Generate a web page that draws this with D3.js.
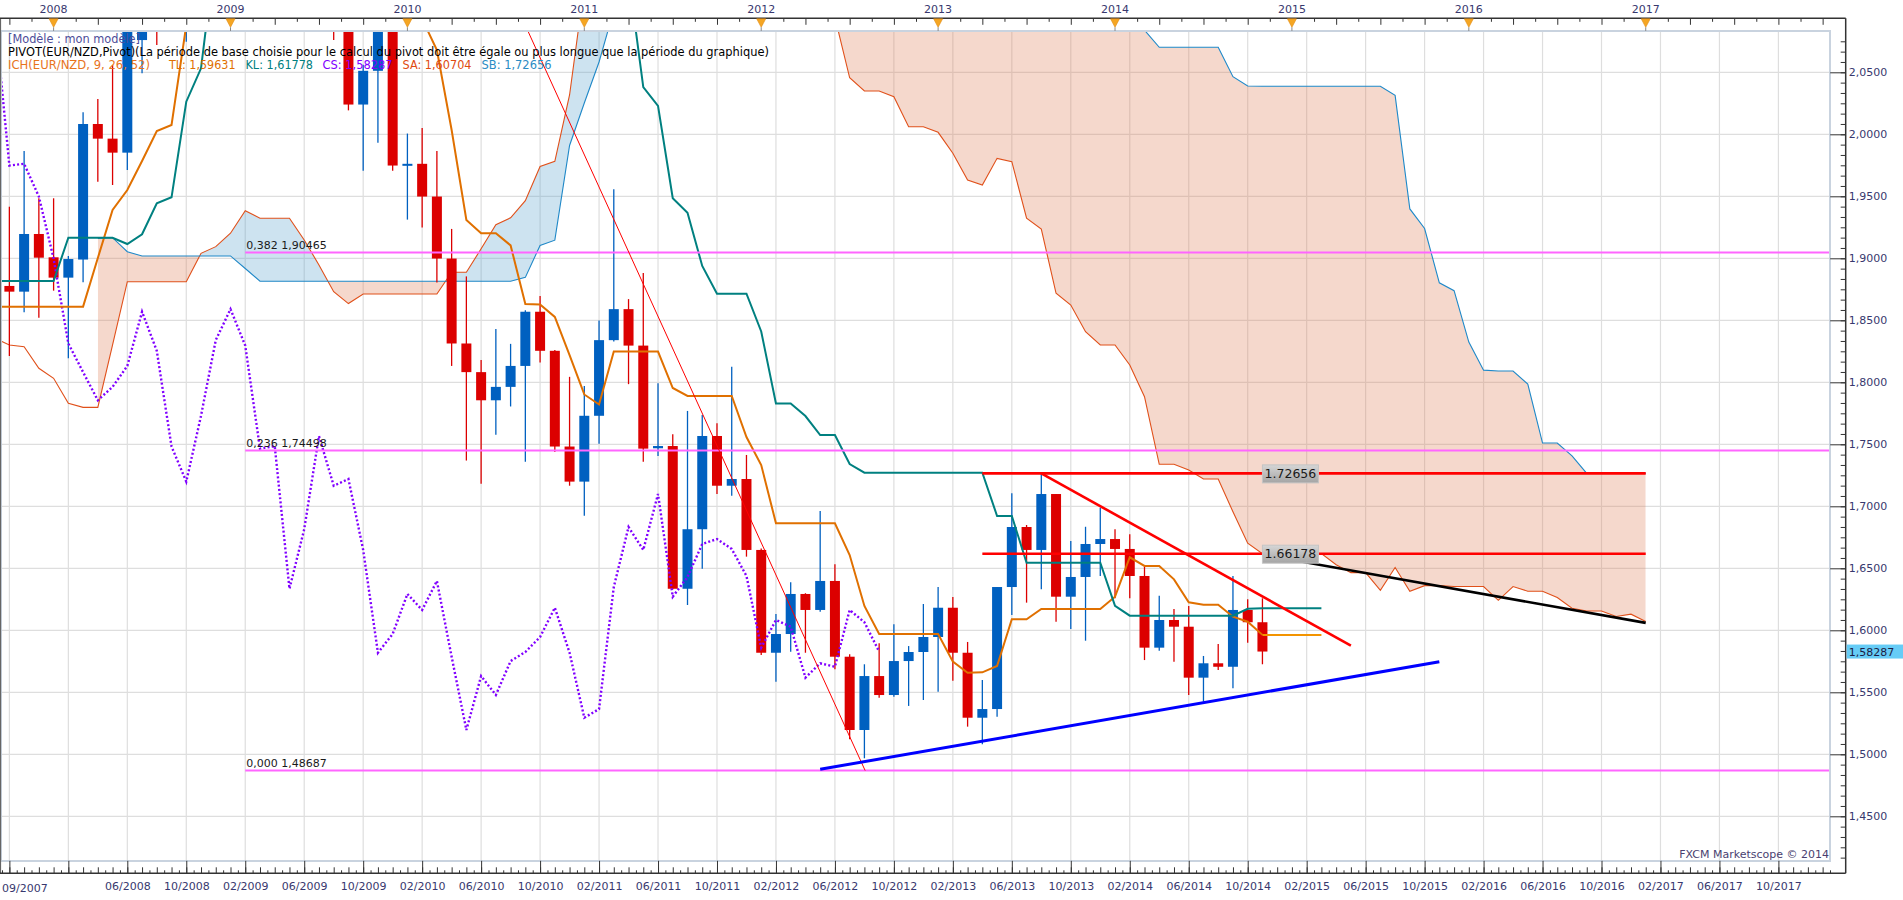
<!DOCTYPE html>
<html>
<head>
<meta charset="utf-8">
<script src="https://cdn.jsdelivr.net/npm/d3@7/dist/d3.min.js"></script>
<style>
  body { margin: 0; background: #fff; }
  text { font-family: "DejaVu Sans", Verdana, sans-serif; }
</style>
</head>
<body>
<div id="chart"></div>
<script>
// month index: 0 = 01/2008
const candleStart = -3; // 10/2007
const opens = [
  1.8777, 1.8731, 1.9196, 1.9008, 1.8844, 1.8990, 2.0083, 1.9965, 1.9852, 2.0760,
  2.1400, 2.1000, 2.1600, 2.2700, 2.3700, 2.4200, 2.5300, 2.5000, 2.3000, 2.3200,
  2.1900, 2.1800, 2.1500, 2.1100, 2.0240, 2.0512, 2.0980, 1.9748, 1.9762, 1.9498,
  1.8998, 1.8313, 1.8082, 1.7855, 1.7963, 1.8132, 1.8569, 1.8254, 1.7482, 1.7199,
  1.7730, 1.8340, 1.8590, 1.8296, 1.7468, 1.7486, 1.6335, 1.6815, 1.7567, 1.7166,
  1.7220, 1.6648, 1.5819, 1.5970, 1.6293, 1.6164, 1.6398, 1.5787, 1.5196, 1.5631,
  1.5478, 1.5752, 1.5825, 1.5946, 1.6182, 1.5819, 1.5295, 1.5365, 1.6349, 1.6833,
  1.6648, 1.7099, 1.6271, 1.6430, 1.6696, 1.6736, 1.6656, 1.6438, 1.5860, 1.6083,
  1.6029, 1.5618, 1.5734, 1.5706, 1.6164, 1.6065
];
const highs = [
  1.9416, 1.9865, 1.9484, 1.9484, 1.9019, 2.0177, 2.0285, 2.0559, 2.1200, 2.1600,
  2.1700, 2.2000, 2.4000, 2.4200, 2.5500, 2.6000, 2.6100, 2.5400, 2.3800, 2.3300,
  2.2400, 2.2200, 2.1700, 2.1300, 2.0560, 2.1300, 2.1200, 2.0006, 2.0051, 1.9865,
  1.9237, 1.8854, 1.8180, 1.8430, 1.8310, 1.8582, 1.8696, 1.8260, 1.8044, 1.7971,
  1.8498, 1.9556, 1.8671, 1.8881, 1.7992, 1.7581, 1.7769, 1.7736, 1.7669, 1.8126,
  1.7414, 1.6660, 1.6131, 1.6387, 1.6299, 1.6962, 1.6532, 1.5806, 1.5726, 1.5895,
  1.6048, 1.5873, 1.6212, 1.6349, 1.6269, 1.5906, 1.5599, 1.6349, 1.7105, 1.6849,
  1.7266, 1.7099, 1.6720, 1.6835, 1.6989, 1.6815, 1.6774, 1.6513, 1.6279, 1.6172,
  1.6196, 1.5793, 1.5890, 1.6438, 1.6250, 1.6258
];
const lows = [
  1.8212, 1.8565, 1.8521, 1.8739, 1.8194, 1.8806, 1.9618, 1.9591, 1.9712, 2.0492,
  2.0720, 2.0900, 2.0747, 2.2000, 2.3300, 2.3900, 2.4500, 2.2800, 2.2500, 2.1700,
  2.1400, 2.1200, 2.0760, 2.0193, 1.9706, 1.9931, 1.9706, 1.9312, 1.9248, 1.8804,
  1.8132, 1.7369, 1.7182, 1.7577, 1.7805, 1.7360, 1.8160, 1.7438, 1.7166, 1.6924,
  1.7505, 1.8330, 1.7985, 1.7360, 1.7406, 1.6330, 1.6204, 1.6497, 1.7099, 1.7085,
  1.6594, 1.5800, 1.5585, 1.5827, 1.5819, 1.6150, 1.5685, 1.5121, 1.4968, 1.5456,
  1.5464, 1.5390, 1.5438, 1.5505, 1.5594, 1.5223, 1.5081, 1.5303, 1.6123, 1.6223,
  1.6331, 1.6069, 1.6010, 1.5916, 1.6438, 1.6258, 1.6258, 1.5760, 1.5835, 1.5747,
  1.5478, 1.5424, 1.5680, 1.5532, 1.5900, 1.5726
];
const closes = [
  1.8731, 1.9196, 1.9005, 1.8844, 1.8994, 2.0083, 1.9965, 1.9852, 2.0900, 2.1400,
  2.1000, 2.1600, 2.2700, 2.3700, 2.4200, 2.5300, 2.5000, 2.3000, 2.3200, 2.1900,
  2.1800, 2.1500, 2.1100, 2.0240, 2.0512, 2.0980, 1.9748, 1.9762, 1.9498, 1.8998,
  1.8313, 1.8082, 1.7855, 1.7963, 1.8132, 1.8569, 1.8254, 1.7482, 1.7199, 1.7730,
  1.8340, 1.8590, 1.8296, 1.7465, 1.7486, 1.6335, 1.6815, 1.7567, 1.7166, 1.7220,
  1.6648, 1.5819, 1.5970, 1.6293, 1.6164, 1.6398, 1.5787, 1.5196, 1.5631, 1.5478,
  1.5752, 1.5825, 1.5946, 1.6182, 1.5819, 1.5295, 1.5365, 1.6349, 1.6833, 1.6648,
  1.7099, 1.6271, 1.6430, 1.6696, 1.6736, 1.6656, 1.6438, 1.5860, 1.6083, 1.6029,
  1.5618, 1.5734, 1.5706, 1.6164, 1.6065, 1.58287
];

// Ichimoku lines
const lineStart = -4; // 09/2007
const tenkan = [
  1.8610, 1.8610, 1.8610, 1.8610, 1.8610, 1.8610, 1.8610, 1.9002, 1.9390, 1.9551,
  1.9785, 2.0027, 2.0075, 2.0880, 2.2000, 2.2500, 2.3200, 2.3500, 2.3500, 2.3500,
  2.3500, 2.3300, 2.2800, 2.2500, 2.2200, 2.2000, 2.1800, 2.1500, 2.1200, 2.0930,
  2.0680, 2.0035, 1.9309, 1.9202, 1.9202, 1.9104, 1.8632, 1.8627, 1.8527, 1.8220,
  1.7902, 1.7821, 1.8248, 1.8248, 1.8248, 1.8248, 1.7954, 1.7890, 1.7890, 1.7890,
  1.7890, 1.7559, 1.7333, 1.6863, 1.6863, 1.6863, 1.6863, 1.6863, 1.6607, 1.6196,
  1.5970, 1.5970, 1.5970, 1.5970, 1.5970, 1.5747, 1.5658, 1.5661, 1.5712, 1.6089,
  1.6089, 1.6172, 1.6172, 1.6172, 1.6172, 1.6172, 1.6271, 1.6589, 1.6519, 1.6519,
  1.6411, 1.6226, 1.6206, 1.6206, 1.6110, 1.6069, 1.59631
];
const kijun = [
  1.8817, 1.8817, 1.8817, 1.8817, 1.8817, 1.9166, 1.9166, 1.9166, 1.9166, 1.9115,
  1.9194, 1.9444, 1.9492, 2.0263, 2.0532, 2.1500, 2.2500, 2.2500, 2.2500, 2.2500,
  2.2500, 2.2500, 2.2500, 2.2500, 2.2500, 2.2500, 2.2500, 2.2500, 2.2500, 2.1700,
  2.1700, 2.1700, 2.1700, 2.1700, 2.1700, 2.1700, 2.1700, 2.1700, 2.1700, 2.1700,
  2.1700, 2.1700, 2.1700, 2.1280, 2.0381, 2.0229, 1.9485, 1.9368, 1.8938, 1.8715,
  1.8715, 1.8715, 1.8410, 1.7829, 1.7829, 1.7728, 1.7575, 1.7575, 1.7341, 1.7271,
  1.7271, 1.7271, 1.7271, 1.7271, 1.7271, 1.7271, 1.7271, 1.7271, 1.6922, 1.6922,
  1.6545, 1.6545, 1.6545, 1.6545, 1.6545, 1.6545, 1.6198, 1.6118, 1.6118, 1.6118,
  1.6118, 1.6118, 1.6118, 1.6118, 1.6118, 1.6174, 1.61778
];
const senkouA = [
  1.8357, 1.8301, 1.8287, 1.8113, 1.8032, 1.7831, 1.7798, 1.7798, 1.8301, 1.8811,
  1.8811, 1.8811, 1.8811, 1.8811, 1.9040, 1.9094, 1.9202, 1.9384, 1.9323, 1.9323,
  1.9323, 1.9148, 1.8946, 1.8731, 1.8635, 1.8712, 1.8712, 1.8712, 1.8712, 1.8712,
  1.8712, 1.8887, 1.8887, 1.9077, 1.9271, 1.9327, 1.9465, 1.9740, 1.9782, 2.0317,
  2.1200, 2.1600, 2.2000, 2.2000, 2.2000, 2.2000, 2.2000, 2.2000, 2.2000, 2.1800,
  2.1800, 2.1800, 2.1800, 2.1800, 2.1800, 2.1500, 2.1200, 2.0943, 2.0456, 2.0349,
  2.0349, 2.0303, 2.0061, 2.0061, 2.0016, 1.9847, 1.9631, 1.9591, 1.9806, 1.9779,
  1.9323, 1.9236, 1.8718, 1.8623, 1.8408, 1.8301, 1.8301, 1.8140, 1.7884, 1.7339,
  1.7339, 1.7293, 1.7220, 1.7220, 1.6956, 1.6702, 1.6618, 1.6618, 1.6618, 1.6618,
  1.6618, 1.6529, 1.6465, 1.6465, 1.6322, 1.6506, 1.6315, 1.6360, 1.6360, 1.6353,
  1.6353, 1.6353, 1.6242, 1.6353, 1.6315, 1.6315, 1.6264, 1.6178, 1.6156, 1.6156,
  1.6111, 1.6130, 1.60704
];
const sbStart = 3; // 04/2008
const senkouB = [
  1.9161, 1.9166, 1.9053, 1.9019, 1.9019, 1.9019, 1.9019, 1.9019, 1.9019, 1.9019,
  1.8918, 1.8815, 1.8815, 1.8815, 1.8815, 1.8815, 1.8815, 1.8815, 1.8815, 1.8815,
  1.8815, 1.8815, 1.8815, 1.8815, 1.8815, 1.8815, 1.8815, 1.8815, 1.8815, 1.8846,
  1.9104, 1.9146, 1.9910, 2.0252, 2.0583, 2.1000, 2.1600, 2.2200, 2.2200, 2.2200,
  2.2200, 2.2200, 2.2200, 2.2200, 2.2200, 2.2200, 2.2200, 2.2200, 2.2200, 2.2200,
  2.2200, 2.2200, 2.2200, 2.2200, 2.2200, 2.2200, 2.2200, 2.2200, 2.2200, 2.2200,
  2.2200, 2.2200, 2.2200, 2.2200, 2.2200, 2.2200, 2.2200, 2.2200, 2.2200, 2.2200,
  2.1200, 2.0840, 2.0702, 2.0702, 2.0702, 2.0702, 2.0702, 2.0465, 2.0390, 2.0387,
  2.0387, 2.0387, 2.0387, 2.0387, 2.0387, 2.0387, 2.0387, 2.0387, 2.0314, 1.9398,
  1.9240, 1.8802, 1.8739, 1.8324, 1.8098, 1.8091, 1.8091, 1.7986, 1.7510, 1.7510,
  1.7406, 1.72656, 1.72656, 1.72656, 1.72656, 1.72656
];
const chikouShift = 26;
const projectEnd = 86; // TL / KL projected to 03/2015

// pivot (fibo) levels
const pivotRatios = ["0,382", "0,236", "0,000"];
const pivotValues = [1.90465, 1.74498, 1.48687];
const pivotStart = 13;

// hand-drawn lines
const levelValues = [1.72656, 1.66178];
const levelLabels = ["1.72656", "1.66178"];
const levelFrom = 63, levelTo = 108, levelBoxAt = 82;
const trendLines = [
  {pts: [[31, 2.1139], [55.05, 1.4869]], color: "#ff0000", w: 1},
  {pts: [[67, 1.72656], [88, 1.5876]], color: "#ff0000", w: 2.6},
  {pts: [[52, 1.4879], [94, 1.5747]], color: "#0000ff", w: 3},
  {pts: [[82, 1.6610], [108, 1.6060]], color: "#000000", w: 2.6}
];
const lastPrice = 1.58287;
const years = [2008, 2009, 2010, 2011, 2012, 2013, 2014, 2015, 2016, 2017];
const yTicks = [1.45, 1.50, 1.55, 1.60, 1.65, 1.70, 1.75, 1.80, 1.85, 1.90, 1.95, 2.00, 2.05];

const W = 1903, H = 900;
const plot = {left: 0, top: 31, right: 1830, bottom: 861};
const axisX = 1845.7, axisBottomY = 873.3, axisTopY = 18.3;

const x = d3.scaleLinear().domain([-3.636, 120.5]).range([plot.left, plot.right]);
const y = d3.scaleLinear().domain([1.45, 2.05]).range([816.3, 72.3]);

const RED = "#dc0000", BLUE = "#0060c0";
const AXIS_TXT = "#38386e";

const svg = d3.select("#chart").append("svg").attr("width", W).attr("height", H);
const defs = svg.append("defs");
defs.append("clipPath").attr("id", "plotClip").append("rect")
  .attr("x", plot.left).attr("y", plot.top)
  .attr("width", plot.right - plot.left).attr("height", plot.bottom - plot.top);

const series = (arr, start) => arr.map((v, i) => ({m: start + i, v: v}));
const line = d3.line().x(d => x(d.m)).y(d => y(d.v));

// grid
const gridMonths = d3.range(-3, 121, 4);
const grid = svg.append("g");
grid.selectAll("line.v").data(gridMonths).enter().append("line")
  .attr("x1", d => x(d)).attr("x2", d => x(d))
  .attr("y1", plot.top).attr("y2", plot.bottom)
  .attr("stroke", "#dedede").attr("stroke-width", 1.2);
grid.selectAll("line.h").data(yTicks).enter().append("line")
  .attr("x1", plot.left).attr("x2", plot.right)
  .attr("y1", d => y(d)).attr("y2", d => y(d))
  .attr("stroke", "#dedede").attr("stroke-width", 1.2);

const plotG = svg.append("g").attr("clip-path", "url(#plotClip)");

// cloud
const cloud = senkouB.map((b, i) => ({m: sbStart + i, b: b, a: senkouA[sbStart - lineStart + i]}));
const between = d3.area().x(d => x(d.m)).y0(d => y(d.a)).y1(d => y(d.b));
defs.append("clipPath").attr("id", "aboveB").append("path")
  .attr("d", d3.area().x(d => x(d.m)).y0(-5000).y1(d => y(d.b))(cloud));
defs.append("clipPath").attr("id", "belowB").append("path")
  .attr("d", d3.area().x(d => x(d.m)).y0(d => y(d.b)).y1(5000)(cloud));
plotG.append("g").attr("clip-path", "url(#aboveB)").append("path")
  .attr("d", between(cloud)).attr("fill", "rgb(88,162,205)").attr("fill-opacity", 0.3);
plotG.append("g").attr("clip-path", "url(#belowB)").append("path")
  .attr("d", between(cloud)).attr("fill", "rgb(222,125,85)").attr("fill-opacity", 0.3);

plotG.append("path").attr("d", line(series(senkouA, lineStart)))
  .attr("fill", "none").attr("stroke", "#e0501a").attr("stroke-width", 1.1);
plotG.append("path").attr("d", line(series(senkouB, sbStart)))
  .attr("fill", "none").attr("stroke", "#1e88c8").attr("stroke-width", 1.1);

// candles
const candles = opens.map((o, i) => ({m: candleStart + i, o: o, h: highs[i], l: lows[i], c: closes[i]}));
const gC = plotG.append("g");
gC.selectAll("line").data(candles).enter().append("line")
  .attr("x1", d => x(d.m)).attr("x2", d => x(d.m))
  .attr("y1", d => y(d.h)).attr("y2", d => y(d.l))
  .attr("stroke", d => d.c >= d.o ? BLUE : RED).attr("stroke-width", 1.3);
gC.selectAll("rect").data(candles).enter().append("rect")
  .attr("x", d => x(d.m) - 5).attr("width", 10)
  .attr("y", d => y(Math.max(d.o, d.c)))
  .attr("height", d => Math.max(2, Math.abs(y(d.o) - y(d.c))))
  .attr("fill", d => d.c >= d.o ? BLUE : RED);

// chikou, tenkan, kijun
plotG.append("path").attr("d", line(closes.map((v, i) => ({m: candleStart + i - chikouShift, v: v}))))
  .attr("fill", "none").attr("stroke", "#8000ff").attr("stroke-width", 2.4)
  .attr("stroke-dasharray", "2,2.2");
plotG.append("path").attr("d", line(series(tenkan, lineStart)))
  .attr("fill", "none").attr("stroke", "#e07000").attr("stroke-width", 2);
plotG.append("path").attr("d", line(series(kijun, lineStart)))
  .attr("fill", "none").attr("stroke", "#008080").attr("stroke-width", 2);
const lastM = lineStart + tenkan.length - 1;
plotG.append("path").attr("d", line([{m: lastM, v: tenkan[tenkan.length - 1]}, {m: projectEnd, v: tenkan[tenkan.length - 1]}]))
  .attr("stroke", "#f39400").attr("stroke-width", 2);
plotG.append("path").attr("d", line([{m: lastM, v: kijun[kijun.length - 1]}, {m: projectEnd, v: kijun[kijun.length - 1]}]))
  .attr("stroke", "#008080").attr("stroke-width", 2);

// pivot levels
const gP = plotG.append("g");
pivotValues.forEach((v, i) => {
  gP.append("line").attr("x1", x(pivotStart)).attr("x2", plot.right)
    .attr("y1", y(v)).attr("y2", y(v)).attr("stroke", "#ff66ff").attr("stroke-width", 2);
  gP.append("text").attr("x", x(pivotStart) + 1).attr("y", y(v) - 4)
    .attr("font-size", 11).attr("fill", "#1a1a1a")
    .text(pivotRatios[i] + " " + v.toFixed(5).replace(".", ","));
});

// trendlines
trendLines.forEach(t => {
  plotG.append("path").attr("d", line(t.pts.map(p => ({m: p[0], v: p[1]}))))
    .attr("stroke", t.color).attr("stroke-width", t.w).attr("fill", "none");
});

// horizontal levels with boxes
const grad = defs.append("linearGradient").attr("id", "boxGrad").attr("x1", 0).attr("x2", 0).attr("y1", 0).attr("y2", 1);
grad.append("stop").attr("offset", "0%").attr("stop-color", "#d6d6d6");
grad.append("stop").attr("offset", "100%").attr("stop-color", "#a4a4a4");
levelValues.forEach((v, i) => {
  plotG.append("line").attr("x1", x(levelFrom)).attr("x2", x(levelTo))
    .attr("y1", y(v)).attr("y2", y(v)).attr("stroke", "#ff0000").attr("stroke-width", 2.6);
});
levelValues.forEach((v, i) => {
  const bx = x(levelBoxAt);
  plotG.append("rect").attr("x", bx).attr("y", y(v) - 8.5).attr("width", 56).attr("height", 18)
    .attr("fill", "url(#boxGrad)").attr("stroke", "#c4c4c4").attr("stroke-width", 1);
  plotG.append("text").attr("x", bx + 28).attr("y", y(v) + 4.5).attr("text-anchor", "middle")
    .attr("font-family", "'Liberation Sans', Arial, sans-serif").attr("font-size", 12.5)
    .attr("fill", "#1a1a1a").text(levelLabels[i]);
});

// plot frame
svg.append("rect").attr("x", plot.left + 1).attr("y", plot.top).attr("width", plot.right - plot.left - 1)
  .attr("height", plot.bottom - plot.top).attr("fill", "none").attr("stroke", "#c9d3df").attr("stroke-width", 2);
svg.append("line").attr("x1", 0.5).attr("x2", 0.5).attr("y1", axisTopY).attr("y2", axisBottomY)
  .attr("stroke", "#666").attr("stroke-width", 1.2);

// right axis
const gR = svg.append("g").attr("transform", `translate(${axisX},0)`);
const minorY = d3.range(-4, 76).map(k => 1.45 + k * 0.05 / 6);
gR.append("g").call(d3.axisRight(y).tickValues(minorY).tickSizeInner(-5).tickSizeOuter(0).tickFormat(""))
  .call(g => g.select(".domain").remove());
gR.append("g").call(d3.axisRight(y).tickValues(yTicks).tickSizeInner(-15.5).tickSizeOuter(0).tickPadding(3)
    .tickFormat(v => v.toFixed(4).replace(".", ",")))
  .call(g => g.select(".domain").remove())
  .call(g => g.selectAll("text").attr("font-size", 11).attr("fill", AXIS_TXT).attr("font-family", "'DejaVu Sans', Verdana, sans-serif"));
gR.selectAll(".tick line").attr("stroke", "#333");
svg.append("line").attr("x1", axisX).attr("x2", axisX).attr("y1", axisTopY).attr("y2", axisBottomY)
  .attr("stroke", "#333").attr("stroke-width", 1.5);

// current price tag
svg.append("rect").attr("x", axisX + 1).attr("y", y(lastPrice) - 7).attr("width", W - axisX - 1).attr("height", 14)
  .attr("fill", "#66ccf6");
svg.append("text").attr("x", axisX + 3).attr("y", y(lastPrice) + 4).attr("font-size", 11)
  .attr("fill", "#1c1c44").text(lastPrice.toFixed(5).replace(".", ","));

// bottom axis
const monthLabel = m => {
  const yr = 2008 + Math.floor(m / 12);
  const mo = ((m % 12) + 12) % 12 + 1;
  return (mo < 10 ? "0" : "") + mo + "/" + yr;
};
const gB = svg.append("g").attr("transform", `translate(0,${axisBottomY})`);
gB.append("g").call(d3.axisBottom(x).tickValues(d3.range(-3.5, 121, 1)).tickSizeInner(-3).tickSizeOuter(0).tickFormat(""))
  .call(g => g.select(".domain").remove());
gB.append("g").call(d3.axisBottom(x).tickValues(d3.range(-3, 121, 1)).tickSizeInner(-6).tickSizeOuter(0).tickFormat(""))
  .call(g => g.select(".domain").remove());
gB.append("g").call(d3.axisBottom(x).tickValues(gridMonths).tickSizeInner(-12.5).tickSizeOuter(0).tickPadding(9)
    .tickFormat(m => m < 5 ? "" : monthLabel(m)))
  .call(g => g.select(".domain").remove())
  .call(g => g.selectAll("text").attr("font-size", 11).attr("fill", AXIS_TXT).attr("font-family", "'DejaVu Sans', Verdana, sans-serif"));
gB.selectAll(".tick line").attr("stroke", "#333");
gB.append("text").attr("x", 2).attr("y", 18.5).attr("font-size", 11).attr("fill", AXIS_TXT).text("09/2007");
svg.append("line").attr("x1", 0).attr("x2", axisX).attr("y1", axisBottomY).attr("y2", axisBottomY)
  .attr("stroke", "#333").attr("stroke-width", 1.5);

// top axis
const gT = svg.append("g").attr("transform", `translate(0,${axisTopY})`);
gT.append("g").call(d3.axisTop(x).tickValues(d3.range(-1.5, 121, 3)).tickSizeInner(-3.5).tickSizeOuter(0).tickFormat(""))
  .call(g => g.select(".domain").remove());
gT.append("g").call(d3.axisTop(x).tickValues(d3.range(-3, 121, 3)).tickSizeInner(-6.5).tickSizeOuter(0).tickFormat(""))
  .call(g => g.select(".domain").remove());
gT.selectAll(".tick line").attr("stroke", "#333");
svg.append("line").attr("x1", 0).attr("x2", axisX).attr("y1", axisTopY).attr("y2", axisTopY)
  .attr("stroke", "#333").attr("stroke-width", 1.5);
const yearG = svg.append("g");
yearG.selectAll("text").data(years).enter().append("text")
  .attr("x", d => x((d - 2008) * 12)).attr("y", 13).attr("text-anchor", "middle")
  .attr("font-size", 11).attr("fill", AXIS_TXT).text(d => d);
yearG.selectAll("path").data(years).enter().append("path")
  .attr("d", d => {
    const cx = x((d - 2008) * 12);
    return `M${cx - 4.5},${axisTopY + 0.5} L${cx + 4.5},${axisTopY + 0.5} L${cx},${axisTopY + 9} Z`;
  })
  .attr("fill", "#f5a623").attr("stroke", "#e08a10").attr("stroke-width", 0.6);
yearG.selectAll("line").data(years).enter().append("line")
  .attr("x1", d => x((d - 2008) * 12)).attr("x2", d => x((d - 2008) * 12))
  .attr("y1", axisTopY + 9).attr("y2", plot.top)
  .attr("stroke", "#8a8a8a").attr("stroke-width", 1);

// legend
const leg = svg.append("g").attr("font-size", 11.5);
leg.append("text").attr("x", 8).attr("y", 43).attr("fill", "#4d4d99")
  .attr("textLength", 132).attr("lengthAdjust", "spacingAndGlyphs").text("[Modèle : mon modèle]");
leg.append("text").attr("x", 8).attr("y", 56).attr("fill", "#000")
  .attr("textLength", 761).attr("lengthAdjust", "spacingAndGlyphs")
  .text("PIVOT(EUR/NZD,Pivot)(La période de base choisie pour le calcul du pivot doit être égale ou plus longue que la période du graphique)");
const legItems = [
  {x: 8, t: "ICH(EUR/NZD, 9, 26, 52)", c: "#e8741c", w: 142},
  {x: 169, t: "TL: 1,59631", c: "#e07000", w: 66.5},
  {x: 245.5, t: "KL: 1,61778", c: "#008080", w: 67.5},
  {x: 322.5, t: "CS: 1,58287", c: "#8000ff", w: 70},
  {x: 402.5, t: "SA: 1,60704", c: "#e04a10", w: 69},
  {x: 481.5, t: "SB: 1,72656", c: "#2a8cc4", w: 70}
];
leg.selectAll("text.ich").data(legItems).enter().append("text")
  .attr("x", d => d.x).attr("y", 69).attr("fill", d => d.c)
  .attr("textLength", d => d.w).attr("lengthAdjust", "spacingAndGlyphs").text(d => d.t);

svg.append("text").attr("x", plot.right - 1).attr("y", 858).attr("text-anchor", "end")
  .attr("font-size", 11).attr("fill", "#4a3f70").text("FXCM Marketscope © 2014");
</script>
</body>
</html>
